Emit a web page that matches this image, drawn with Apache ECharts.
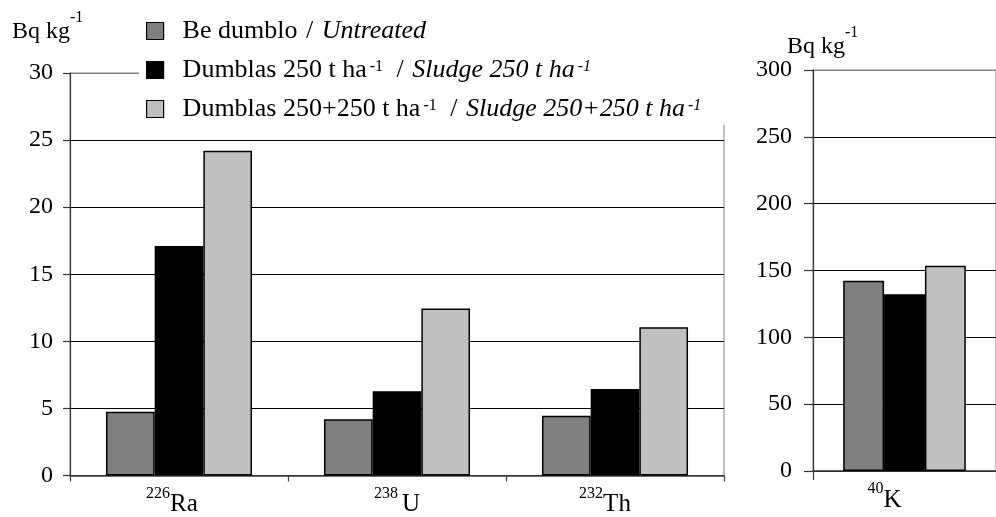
<!DOCTYPE html>
<html>
<head>
<meta charset="utf-8">
<script src="https://cdn.jsdelivr.net/npm/echarts@6/dist/echarts.min.js"></script>
<style>html,body{margin:0;padding:0;background:#fff;}#c{width:996px;height:517px;}</style>
</head>
<body>
<div id="c"></div>
<script>
// ---- data ----
var massNumbers = ['226', '238', '232'];
var isotopes = ['Ra', 'U', 'Th'];
var kMass = ['40'];
var kIsotope = ['K'];
var untreated = [4.75, 4.2, 4.45];
var sludge250 = [17.1, 6.28, 6.45];
var sludge500 = [24.2, 12.45, 11.05];
var kUntreated = [142.3];
var kSludge250 = [132.2];
var kSludge500 = [153.6];
var leftTicks = [0, 30, 5];
var rightTicks = [0, 300, 50];
var seriesNames = ['Be dumblo / Untreated', 'Dumblas 250 t ha-1 / Sludge 250 t ha-1', 'Dumblas 250+250 t ha-1 / Sludge 250+250 t ha-1'];

var FONT = 'Liberation Serif';
var colors = ['#808080', '#000000', '#c0c0c0'];

var legendRich = {
  n: {fontFamily: FONT, fontSize: 26, lineHeight: 22, color: '#000'},
  sl: {fontFamily: FONT, fontSize: 26, lineHeight: 22, color: '#000', padding: [0, 2, 0, 2]},
  i: {fontFamily: FONT, fontSize: 26, lineHeight: 22, fontStyle: 'italic', color: '#000'},
  s: {fontFamily: FONT, fontSize: 16, lineHeight: 16, verticalAlign: 'top', color: '#000', padding: [0, 5, 0, 3]},
  is: {fontFamily: FONT, fontSize: 16, lineHeight: 16, verticalAlign: 'top', fontStyle: 'italic', color: '#000', padding: [0, 5, 0, 3]}
};
function legendFmt(name) {
  var parts = name.split(' / ');
  function conv(t, it) {
    var m = t.match(/^(.*)-1$/);
    if (m) return '{' + (it ? 'i' : 'n') + '|' + m[1] + '}{' + (it ? 'is' : 's') + '|-1}';
    return '{' + (it ? 'i' : 'n') + '|' + t + '}';
  }
  return conv(parts[0], false) + '{sl| / }' + conv(parts[1], true);
}

var labelShift = {'Ra': [0, 14], 'U': [4, 0], 'Th': [0, 20], 'K': [0, 40]};
var xRich = {
  m: {fontFamily: FONT, fontSize: 16, lineHeight: 16, verticalAlign: 'top', color: '#000'}
};
['Ra','U','Th','K'].forEach(function (k) {
  xRich['p' + k] = {fontFamily: FONT, fontSize: 25, lineHeight: 38, color: '#000', padding: [0, labelShift[k][1], 0, labelShift[k][0]]};
});
function xFmt(masses, syms) {
  return function (v) {
    var i = syms.indexOf(v);
    return '{m|' + masses[i] + '}{p' + v + '|' + v + '}';
  };
}

function yAxisCfg(gi, ticks, margin, tickLen) {
  var cols = [];
  for (var v = ticks[0]; v <= ticks[1]; v += ticks[2]) cols.push(v === ticks[1] ? '#808080' : '#000');
  return {
    type: 'value', gridIndex: gi, min: ticks[0], max: ticks[1], interval: ticks[2],
    axisLine: {show: true, lineStyle: {color: '#333', width: 1.2}},
    axisTick: {show: true, length: tickLen, lineStyle: {color: '#333', width: 1.2}},
    axisLabel: {margin: margin, fontFamily: FONT, fontSize: 24, color: '#000'},
    splitLine: {show: true, lineStyle: {color: cols, width: 1}}
  };
}

function xAxisCfg(gi, data, fmt, tickLen) {
  return {
    type: 'category', gridIndex: gi, data: data,
    axisLine: {show: true, lineStyle: {color: '#404040', width: 1.5}},
    axisTick: {show: true, length: tickLen, alignWithLabel: false, lineStyle: {color: '#404040', width: 1.2}},
    axisLabel: {margin: 10, formatter: fmt, rich: xRich, interval: 0}
  };
}

function barSeries(name, xi, data, ci) {
  return {
    name: name, type: 'bar', xAxisIndex: xi, yAxisIndex: xi, data: data,
    barGap: '0%', barCategoryGap: '33%',
    itemStyle: {color: colors[ci], borderColor: '#000', borderWidth: 1.5},
    emphasis: {disabled: true}, animation: false
  };
}

var nameRich = {
  a: {fontFamily: FONT, fontSize: 24, lineHeight: 43, fill: '#000'},
  s: {fontFamily: FONT, fontSize: 16, lineHeight: 16, verticalAlign: 'top', fill: '#000'}
};

var chart = echarts.init(document.getElementById('c'), null, {renderer: 'canvas'});
chart.setOption({
  animation: false,
  backgroundColor: '#fff',
  grid: [
    {left: 70, top: 73, width: 654, height: 404, show: true, borderColor: '#808080', borderWidth: 1, containLabel: false},
    {left: 813, top: 70, width: 188, height: 401, show: true, borderColor: '#808080', borderWidth: 1, containLabel: false}
  ],
  xAxis: [xAxisCfg(0, isotopes, xFmt(massNumbers, isotopes), 6), xAxisCfg(1, kIsotope, xFmt(kMass, kIsotope), 9)],
  yAxis: [yAxisCfg(0, leftTicks, 17, 7), yAxisCfg(1, rightTicks, 21, 9)],
  legend: {
    orient: 'vertical', left: 146, top: 18, padding: 0, z: 60,
    itemWidth: 17, itemHeight: 17, itemGap: 13, icon: 'rect',
    itemStyle: {borderColor: '#000', borderWidth: 1.2},
    data: seriesNames,
    formatter: legendFmt,
    textStyle: {rich: legendRich, padding: [0, 0, 0, 14]},
    selectedMode: false
  },
  graphic: [
    {type: 'rect', z: 50, silent: true, shape: {x: 139, y: 0, width: 591, height: 125}, style: {fill: '#fff'}},
    {type: 'text', z: 70, silent: true, x: 12, y: 10, style: {text: '{a|Bq kg}{s|-1}', rich: nameRich}},
    {type: 'text', z: 70, silent: true, x: 787, y: 25, style: {text: '{a|Bq kg}{s|-1}', rich: nameRich}}
  ],
  series: [
    barSeries(seriesNames[0], 0, untreated, 0),
    barSeries(seriesNames[1], 0, sludge250, 1),
    barSeries(seriesNames[2], 0, sludge500, 2),
    barSeries(seriesNames[0], 1, kUntreated, 0),
    barSeries(seriesNames[1], 1, kSludge250, 1),
    barSeries(seriesNames[2], 1, kSludge500, 2)
  ]
});
</script>
</body>
</html>
